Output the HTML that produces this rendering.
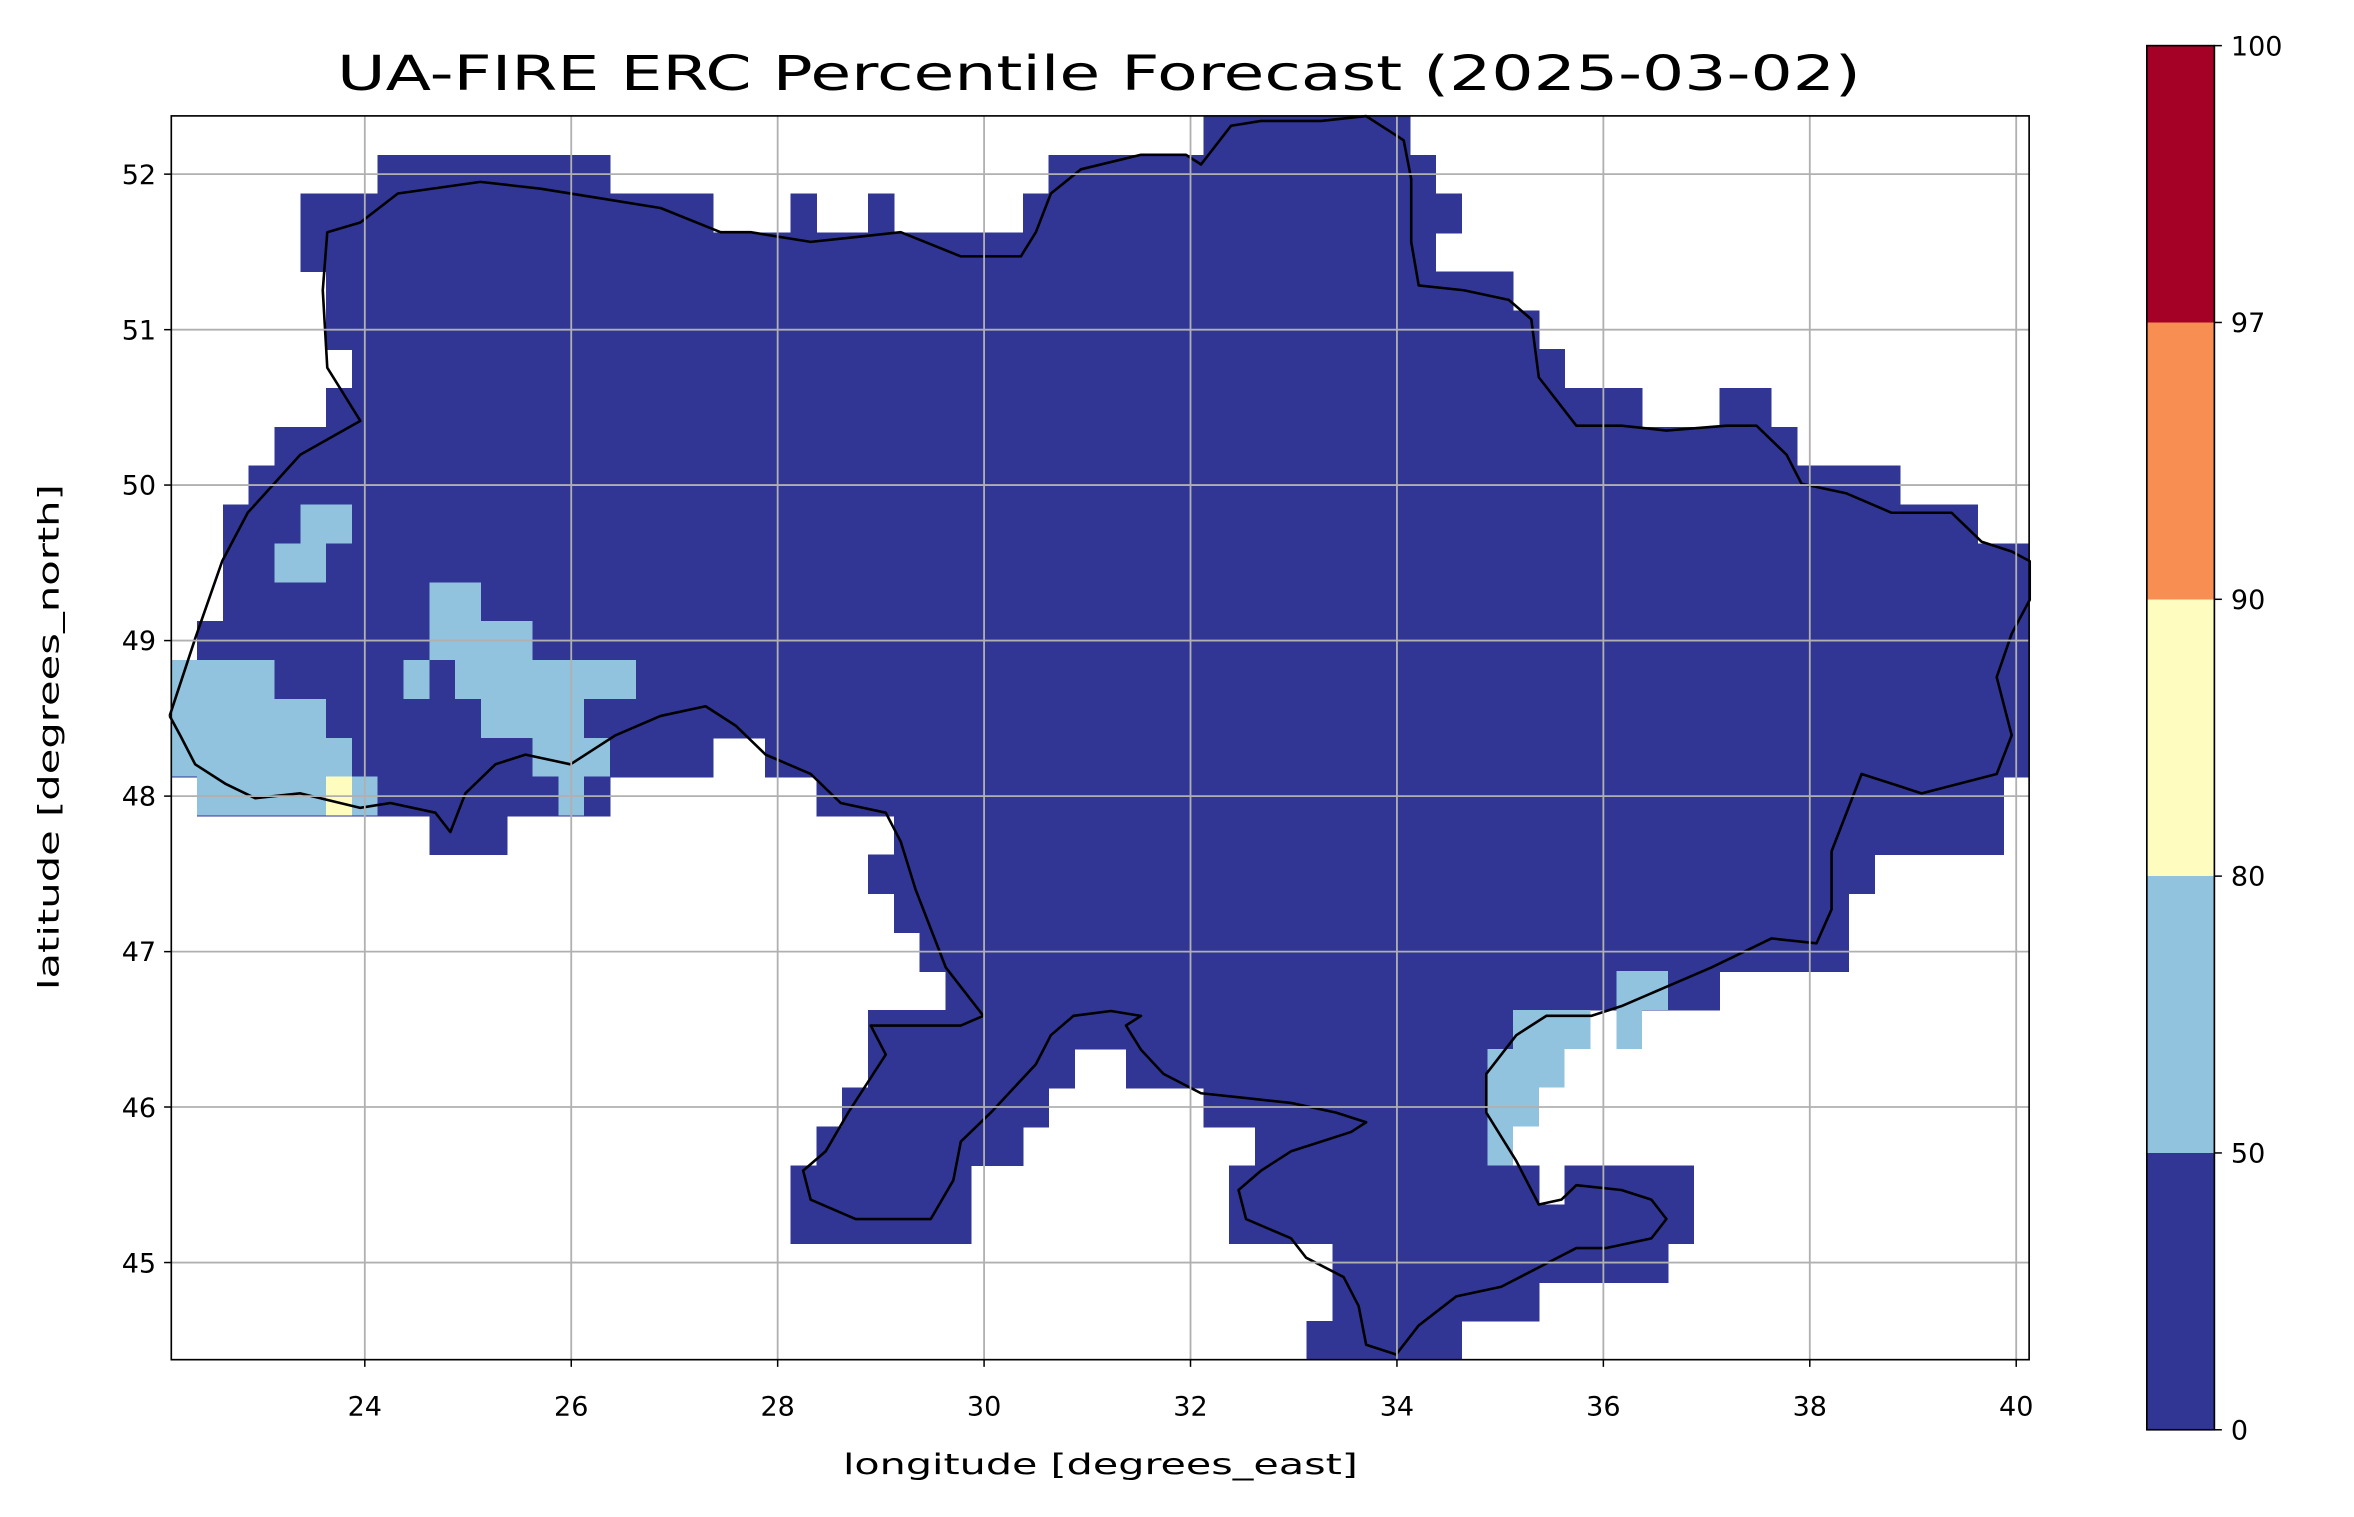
<!DOCTYPE html>
<html><head><meta charset="utf-8">
<style>
html,body{margin:0;padding:0;background:#fff;}
svg{display:block;}
text{font-family:"DejaVu Sans","Liberation Sans",sans-serif;fill:#000;}
</style></head>
<body>
<svg width="2354" height="1517" viewBox="0 0 1568 1010.5" preserveAspectRatio="none" xmlns="http://www.w3.org/2000/svg">
<rect x="0" y="0" width="1568" height="1010.5" fill="#fff"/>
<g transform="translate(114.1 77.2) scale(17.1875 25.893)" fill="#313695" shape-rendering="crispEdges">
<rect x="40" y="0" width="8.02" height="1.02"/>
<rect x="8" y="1" width="9.02" height="1.02"/><rect x="34" y="1" width="15.02" height="1.02"/>
<rect x="5" y="2" width="16.02" height="1.02"/><rect x="24" y="2" width="1.02" height="1.02"/><rect x="27" y="2" width="1.02" height="1.02"/><rect x="33" y="2" width="17.02" height="1.02"/>
<rect x="5" y="3" width="44.02" height="1.02"/>
<rect x="6" y="4" width="46.02" height="1.02"/>
<rect x="6" y="5" width="47.02" height="1.02"/>
<rect x="7" y="6" width="47.02" height="1.02"/>
<rect x="6" y="7" width="51.02" height="1.02"/><rect x="60" y="7" width="2.02" height="1.02"/>
<rect x="4" y="8" width="59.02" height="1.02"/>
<rect x="3" y="9" width="64.02" height="1.02"/>
<rect x="2" y="10" width="68.02" height="1.02"/>
<rect x="2" y="11" width="70" height="1.02"/>
<rect x="2" y="12" width="70" height="1.02"/>
<rect x="1" y="13" width="71" height="1.02"/>
<rect x="0" y="14" width="72" height="1.02"/>
<rect x="0" y="15" width="72" height="1.02"/>
<rect x="0" y="16" width="21.02" height="1.02"/><rect x="23" y="16" width="49" height="1.02"/>
<rect x="1" y="17" width="16.02" height="1.02"/><rect x="25" y="17" width="46.02" height="1.02"/>
<rect x="10" y="18" width="3.02" height="1.02"/><rect x="28" y="18" width="43.02" height="1.02"/>
<rect x="27" y="19" width="39.02" height="1.02"/>
<rect x="28" y="20" width="37.02" height="1.02"/>
<rect x="29" y="21" width="36.02" height="1.02"/>
<rect x="30" y="22" width="30.02" height="1.02"/>
<rect x="27" y="23" width="25.02" height="1.02"/>
<rect x="27" y="24" width="8.02" height="1.02"/><rect x="37" y="24" width="14.02" height="1.02"/>
<rect x="26" y="25" width="8.02" height="1.02"/><rect x="40" y="25" width="11.02" height="1.02"/>
<rect x="25" y="26" width="8.02" height="1.02"/><rect x="42" y="26" width="9.02" height="1.02"/>
<rect x="24" y="27" width="7.02" height="1.02"/><rect x="41" y="27" width="12.02" height="1.02"/><rect x="54" y="27" width="5.02" height="1.02"/>
<rect x="24" y="28" width="7.02" height="1.02"/><rect x="41" y="28" width="18.02" height="1.02"/>
<rect x="45" y="29" width="13.02" height="1.02"/>
<rect x="45" y="30" width="8.02" height="1.02"/>
<rect x="44" y="31" width="6.02" height="1"/>
</g>
<g transform="translate(114.1 77.2) scale(17.1875 25.893)" fill="#91c3df" shape-rendering="crispEdges">
<rect x="5" y="10" width="2" height="1"/>
<rect x="4" y="11" width="2" height="1"/>
<rect x="10" y="12" width="2" height="1"/>
<rect x="10" y="13" width="4" height="1"/>
<rect x="0" y="14" width="4" height="1"/><rect x="9" y="14" width="1" height="1"/><rect x="11" y="14" width="7" height="1"/>
<rect x="0" y="15" width="6" height="1"/><rect x="12" y="15" width="4" height="1"/>
<rect x="0" y="16" width="7" height="1"/><rect x="14" y="16" width="3" height="1"/>
<rect x="1" y="17" width="5" height="1"/><rect x="7" y="17" width="1" height="1"/><rect x="15" y="17" width="1" height="1"/>
<rect x="56" y="22" width="2" height="1"/>
<rect x="52" y="23" width="3" height="1"/><rect x="56" y="23" width="1" height="1"/>
<rect x="51" y="24" width="3" height="1"/>
<rect x="51" y="25" width="2" height="1"/>
<rect x="51" y="26" width="1" height="1"/>
<rect x="6" y="17" width="1" height="1" fill="#fefcbf"/>
</g>
<g transform="scale(1 0.64445)">
<polyline vector-effect="non-scaling-stroke" fill="none" stroke="#000" stroke-width="2.6" stroke-linejoin="round" points="113,740 130,660 148,580 165,530 200,470 240,435 218,380 215,300 218,240 240,230 265,200 320,188 360,195 400,205 440,215 480,240 500,240 540,250 570,245 600,240 640,265 680,265 690,240 700,200 720,175 760,160 790,160 800,170 820,130 840,125 880,125 910,120 935,145 940,185 940,250 945,295 975,300 1005,310 1020,330 1025,390 1050,440 1080,440 1110,445 1150,440 1170,440 1190,470 1200,500 1230,510 1260,530 1300,530 1320,560 1340,570 1352,580 1352,620 1340,655 1330,700 1340,760 1330,800 1280,820 1260,810 1240,800 1220,880 1220,940 1210,975 1180,970 1140,1000 1110,1020 1080,1040 1060,1050 1030,1050 1010,1070 990,1110 990,1150 1010,1200 1025,1245 1040,1240 1050,1225 1080,1230 1100,1240 1110,1260 1100,1280 1070,1290 1050,1290 1025,1310 1000,1330 970,1340 945,1370 930,1400 910,1390 905,1350 895,1320 870,1300 860,1280 830,1260 825,1230 840,1210 860,1190 880,1180 900,1170 910,1160 890,1150 860,1140 830,1135 800,1130 775,1110 760,1085 750,1060 760,1050 740,1045 715,1050 700,1070 690,1100 660,1150 640,1180 635,1220 620,1260 600,1260 570,1260 540,1240 535,1210 550,1190 565,1150 590,1090 580,1060 600,1060 640,1060 655,1050 640,1020 630,1000 620,960 610,920 600,870 590,840 560,830 540,800 510,780 490,750 470,730 440,740 410,760 400,770 380,790 350,780 330,790 310,820 300,860 290,840 260,830 240,835 200,820 170,825 150,810 130,790 120,760 113,740"/>
</g>
<g stroke="#b0b0b0" stroke-width="1.2">
<line x1="243" y1="77.2" x2="243" y2="905.7"/><line x1="380.5" y1="77.2" x2="380.5" y2="905.7"/>
<line x1="518" y1="77.2" x2="518" y2="905.7"/><line x1="655.5" y1="77.2" x2="655.5" y2="905.7"/>
<line x1="793" y1="77.2" x2="793" y2="905.7"/><line x1="930.5" y1="77.2" x2="930.5" y2="905.7"/>
<line x1="1068" y1="77.2" x2="1068" y2="905.7"/><line x1="1205.5" y1="77.2" x2="1205.5" y2="905.7"/>
<line x1="1343" y1="77.2" x2="1343" y2="905.7"/>
<line x1="114.1" y1="116" x2="1351.6" y2="116"/><line x1="114.1" y1="219.6" x2="1351.6" y2="219.6"/>
<line x1="114.1" y1="323.1" x2="1351.6" y2="323.1"/><line x1="114.1" y1="426.7" x2="1351.6" y2="426.7"/>
<line x1="114.1" y1="530.3" x2="1351.6" y2="530.3"/><line x1="114.1" y1="633.9" x2="1351.6" y2="633.9"/>
<line x1="114.1" y1="737.4" x2="1351.6" y2="737.4"/><line x1="114.1" y1="841" x2="1351.6" y2="841"/>
</g>
<rect x="114.1" y="77.2" width="1237.5" height="828.5" fill="none" stroke="#000" stroke-width="1.1"/>
<g stroke="#000" stroke-width="1">
<line x1="243" y1="905.7" x2="243" y2="910.5"/><line x1="380.5" y1="905.7" x2="380.5" y2="910.5"/>
<line x1="518" y1="905.7" x2="518" y2="910.5"/><line x1="655.5" y1="905.7" x2="655.5" y2="910.5"/>
<line x1="793" y1="905.7" x2="793" y2="910.5"/><line x1="930.5" y1="905.7" x2="930.5" y2="910.5"/>
<line x1="1068" y1="905.7" x2="1068" y2="910.5"/><line x1="1205.5" y1="905.7" x2="1205.5" y2="910.5"/>
<line x1="1343" y1="905.7" x2="1343" y2="910.5"/>
<line x1="109.3" y1="116" x2="114.1" y2="116"/><line x1="109.3" y1="219.6" x2="114.1" y2="219.6"/>
<line x1="109.3" y1="323.1" x2="114.1" y2="323.1"/><line x1="109.3" y1="426.7" x2="114.1" y2="426.7"/>
<line x1="109.3" y1="530.3" x2="114.1" y2="530.3"/><line x1="109.3" y1="633.9" x2="114.1" y2="633.9"/>
<line x1="109.3" y1="737.4" x2="114.1" y2="737.4"/><line x1="109.3" y1="841" x2="114.1" y2="841"/>
</g>
<g font-size="18" text-anchor="middle">
<text x="243" y="943">24</text><text x="380.5" y="943">26</text><text x="518" y="943">28</text>
<text x="655.5" y="943">30</text><text x="793" y="943">32</text><text x="930.5" y="943">34</text>
<text x="1068" y="943">36</text><text x="1205.5" y="943">38</text><text x="1343" y="943">40</text>
</g>
<g font-size="18" text-anchor="end">
<text x="104" y="122.5">52</text><text x="104" y="226">51</text><text x="104" y="329.5">50</text>
<text x="104" y="433">49</text><text x="104" y="536.5">48</text><text x="104" y="640">47</text>
<text x="104" y="744">46</text><text x="104" y="847.5">45</text>
</g>
<text x="733" y="982" font-size="19" text-anchor="middle" textLength="343" lengthAdjust="spacingAndGlyphs">longitude [degrees_east]</text>
<text transform="translate(39 491) rotate(-90)" font-size="19" text-anchor="middle" textLength="337" lengthAdjust="spacingAndGlyphs">latitude [degrees_north]</text>
<text x="732" y="60" font-size="32" text-anchor="middle" textLength="1015" lengthAdjust="spacingAndGlyphs">UA-FIRE ERC Percentile Forecast (2025-03-02)</text>
<g shape-rendering="crispEdges">
<rect x="1430" y="30.4" width="45" height="184.4" fill="#a50026"/>
<rect x="1430" y="214.8" width="45" height="184.4" fill="#f98e52"/>
<rect x="1430" y="399.2" width="45" height="184.4" fill="#fefcbf"/>
<rect x="1430" y="583.6" width="45" height="184.4" fill="#91c3df"/>
<rect x="1430" y="768" width="45" height="184.4" fill="#313695"/>
</g>
<rect x="1430" y="30.4" width="45" height="922" fill="none" stroke="#000" stroke-width="1.1"/>
<g stroke="#000" stroke-width="1">
<line x1="1475" y1="30.4" x2="1480" y2="30.4"/><line x1="1475" y1="214.8" x2="1480" y2="214.8"/>
<line x1="1475" y1="399.2" x2="1480" y2="399.2"/><line x1="1475" y1="583.6" x2="1480" y2="583.6"/>
<line x1="1475" y1="768" x2="1480" y2="768"/><line x1="1475" y1="952.4" x2="1480" y2="952.4"/>
</g>
<g font-size="18">
<text x="1486" y="37">100</text><text x="1486" y="221.3">97</text><text x="1486" y="405.7">90</text>
<text x="1486" y="590">80</text><text x="1486" y="774.5">50</text><text x="1486" y="959">0</text>
</g>
</svg>
</body></html>
